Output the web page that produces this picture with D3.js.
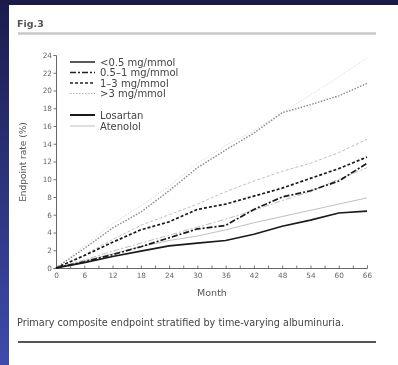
<!DOCTYPE html>
<html><head><meta charset="utf-8">
<script src="https://cdn.jsdelivr.net/npm/d3@7"></script>
<style>
html,body{margin:0;padding:0;background:#1b1b4b;}
svg{display:block;}
</style></head>
<body>
<svg id="c" width="398" height="365"></svg>
<script>
const months = [0, 6, 12, 18, 24, 30, 36, 42, 48, 54, 60, 66];
const xTicks = [0, 6, 12, 18, 24, 30, 36, 42, 48, 54, 60, 66];
const yTicks = [0, 2, 4, 6, 8, 10, 12, 14, 16, 18, 20, 22, 24];
const levels = ["<0.5 mg/mmol", "0.5\u20131 mg/mmol", "1\u20133 mg/mmol", ">3 mg/mmol"];
const treatments = ["Losartan", "Atenolol"];
// Losartan series
const losLow  = [0, 0.6, 1.3, 1.9, 2.5, 2.8, 3.1, 3.8, 4.7, 5.4, 6.2, 6.4];
const losMid  = [0, 0.7, 1.5, 2.4, 3.4, 4.4, 4.8, 6.6, 8.0, 8.7, 9.8, 11.8];
const losHigh = [0, 1.4, 2.9, 4.3, 5.2, 6.6, 7.2, 8.1, 9.0, 10.1, 11.2, 12.5];
const losVery = [0, 2.2, 4.5, 6.3, 8.7, 11.3, 13.3, 15.2, 17.5, 18.4, 19.4, 20.8];
// Atenolol series
const atnLow  = [0, 0.8, 1.6, 2.4, 3.1, 3.6, 4.3, 5.1, 5.8, 6.5, 7.2, 7.9];
const atnMid  = [0, 0.9, 1.9, 2.8, 3.7, 4.6, 5.5, 6.5, 7.6, 8.6, 10.0, 11.3];
const atnHigh = [0, 1.5, 3.2, 4.8, 6.0, 7.2, 8.6, 9.8, 10.9, 11.8, 13.0, 14.5];
const atnVery = [0, 2.5, 5.0, 7.0, 9.2, 11.8, 13.8, 15.5, 17.5, 19.5, 21.5, 23.7];

const svg = d3.select("#c");
const defs = svg.append("defs");
const g1 = defs.append("linearGradient").attr("id","side").attr("x1",0).attr("y1",0).attr("x2",0).attr("y2",1);
g1.append("stop").attr("offset","0%").attr("stop-color","#1b1c4e");
g1.append("stop").attr("offset","100%").attr("stop-color","#3e4bab");
svg.append("rect").attr("x",0).attr("y",0).attr("width",398).attr("height",365).attr("fill","#1b1b4b");
svg.append("rect").attr("x",0).attr("y",5).attr("width",9).attr("height",360).attr("fill","url(#side)");
svg.append("rect").attr("x",9).attr("y",5).attr("width",389).attr("height",360).attr("fill","#ffffff");

const root = svg.append("g").style("filter","blur(0.55px)");

const font = "DejaVu Sans, Verdana, sans-serif";
root.append("text").attr("x",17).attr("y",27).attr("font-family",font).attr("font-size",9.5)
  .attr("font-weight","bold").attr("fill","#555").text("Fig.3");
root.append("line").attr("x1",18).attr("x2",376).attr("y1",33.5).attr("y2",33.5).attr("stroke","#c8c8c8").attr("stroke-width",2.5);
root.append("line").attr("x1",18).attr("x2",376).attr("y1",342).attr("y2",342).attr("stroke","#555").attr("stroke-width",2);
root.append("text").attr("x",17).attr("y",326).attr("font-family",font).attr("font-size",9.7)
  .attr("fill","#444").text("Primary composite endpoint stratified by time-varying albuminuria.");

const x = d3.scaleLinear().domain([0,66]).range([56,367]);
const y = d3.scaleLinear().domain([0,24]).range([268,55]);

const xa = root.append("g").attr("transform","translate(0,268)")
  .call(d3.axisBottom(x).tickValues(d3.range(0,67,3)).tickSize(-2.5)
    .tickFormat(d => xTicks.includes(d) ? d : ""));
xa.select(".domain").attr("stroke","#666");
xa.selectAll(".tick line").attr("stroke","#777");
xa.selectAll("text").attr("font-family",font).attr("font-size",7.3).attr("fill","#666").attr("dy","0.95em").attr("y",3);

const ya = root.append("g").attr("transform","translate(56,0)")
  .call(d3.axisLeft(y).tickValues(yTicks).tickSize(2.5).tickFormat(d3.format("d")));
ya.select(".domain").attr("stroke","#666");
ya.selectAll(".tick line").attr("stroke","#777");
ya.selectAll("text").attr("font-family",font).attr("font-size",7.3).attr("fill","#666").attr("x",-4);

root.append("text").attr("x",212).attr("y",296).attr("text-anchor","middle").attr("font-family",font)
  .attr("font-size",9.5).attr("fill","#555").text("Month");
root.append("text").attr("transform","translate(26,162) rotate(-90)").attr("text-anchor","middle")
  .attr("font-family",font).attr("font-size",9).attr("fill","#555").text("Endpoint rate (%)");

const dashes = [null, "6,2,2,2", "3,2", "1.5,1.5"];
const styles = {
  Losartan: {stroke:"#1a1a1a", width:1.7},
  Atenolol: {stroke:"#b8b8b8", width:0.9}
};
const series = [
  {t:"Atenolol", l:3, v:atnVery, stroke:"#d8d8d8"},
  {t:"Atenolol", l:2, v:atnHigh},
  {t:"Atenolol", l:1, v:atnMid},
  {t:"Atenolol", l:0, v:atnLow},
  {t:"Losartan", l:3, v:losVery, stroke:"#8a8a8a", width:1.4},
  {t:"Losartan", l:2, v:losHigh},
  {t:"Losartan", l:1, v:losMid},
  {t:"Losartan", l:0, v:losLow}
];
const line = d3.line().x((d,i)=>x(months[i])).y(d=>y(d));
series.forEach(s => {
  root.append("path").attr("d", line(s.v)).attr("fill","none")
    .attr("stroke", s.stroke || styles[s.t].stroke)
    .attr("stroke-width", s.width || styles[s.t].width)
    .attr("stroke-dasharray", dashes[s.l]);
});

const legY = [62, 72.5, 83, 93.5];
levels.forEach((lab,i) => {
  root.append("line").attr("x1",70).attr("x2",95).attr("y1",legY[i]).attr("y2",legY[i])
    .attr("stroke", i===3 ? "#aaa" : "#222").attr("stroke-width", i===3 ? 0.9 : 1.5)
    .attr("stroke-dasharray", dashes[i]);
  root.append("text").attr("x",100).attr("y",legY[i]+3.5).attr("font-family",font).attr("font-size",10)
    .attr("fill","#444").text(lab);
});
const legT = [115, 126];
treatments.forEach((lab,i) => {
  root.append("line").attr("x1",70).attr("x2",95).attr("y1",legT[i]).attr("y2",legT[i])
    .attr("stroke", styles[lab].stroke).attr("stroke-width", styles[lab].width + (i===0?0.3:0));
  root.append("text").attr("x",100).attr("y",legT[i]+3.5).attr("font-family",font).attr("font-size",10)
    .attr("fill","#444").text(lab);
});
</script>
</body></html>
